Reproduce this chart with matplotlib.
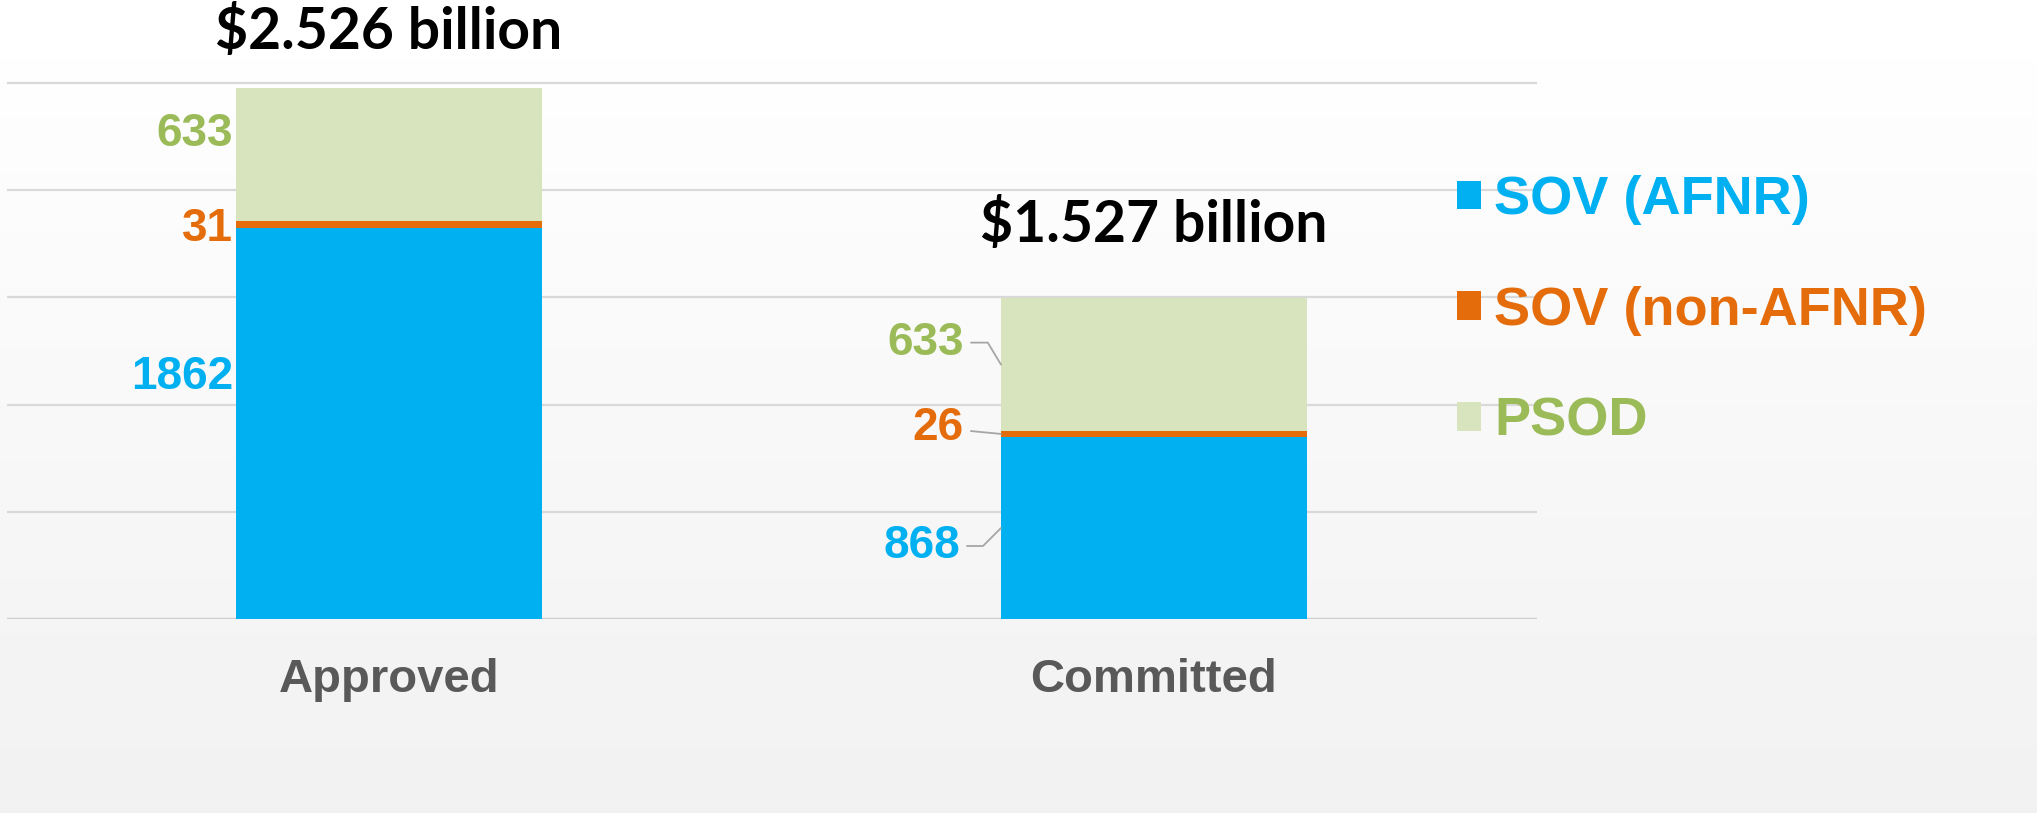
import matplotlib.pyplot as plt
import numpy as np

# values in $ million
categories = ["Approved", "Committed"]
sov_afnr = [1862, 868]
sov_non_afnr = [31, 26]
psod = [633, 633]
series_names = ["SOV (AFNR)", "SOV (non-AFNR)", "PSOD"]

bar_colors = ["#00B0F0", "#E46C0A", "#D7E4BD"]
text_colors = ["#00B0F0", "#E46C0A", "#9BBB59"]

# label offsets (pixels) from the bar's left edge at the middle of each segment
label_offsets = [
    [(-3, 46), (-3, -5), (-3, 20)],
    [(-41, -18), (-37, 6), (-37, 22)],
]
leader_styles = ["angle,angleA=0,angleB=45,rad=0", "arc3,rad=0",
                 "angle,angleA=0,angleB=121,rad=0"]
total_offsets = [56, 73]

W, H = 2037, 813
fig = plt.figure(figsize=(W / 100, H / 100), dpi=100)

# soft white-to-grey background
bg = fig.add_axes([0, 0, 1, 1], zorder=-1)
grad = np.linspace(1.0, 0.945, 256).reshape(-1, 1)
bg.imshow(grad, aspect="auto", cmap="gray", vmin=0, vmax=1, extent=[0, 1, 0, 1])
bg.axis("off")

px_per_unit = 0.2104
y_top = 2560
ax = fig.add_axes([6.5 / W, 1 - 619.3 / H, 1530 / W, y_top * px_per_unit / H])
ax.patch.set_alpha(0)

x = np.arange(len(categories))
width = 0.4
stack = [sov_afnr, sov_non_afnr, psod]
bottoms = np.zeros(len(categories))
bars = []
for vals, name, col in zip(stack, series_names, bar_colors):
    b = ax.bar(x, vals, width, bottom=bottoms, color=col, label=name, zorder=3)
    bars.append((b, bottoms.copy()))
    bottoms += np.array(vals)

ax.set_xlim(-0.5, 1.5)
ax.set_ylim(0, y_top)
ax.set_yticks(np.arange(510, 2551, 510))
ax.yaxis.grid(True, color="#D9D9D9", lw=1.6, zorder=0)
ax.tick_params(axis="y", length=0, labelleft=False)
ax.axhline(0, color="#D0D0D0", lw=2.5, zorder=2)
for s in ax.spines.values():
    s.set_visible(False)

ax.set_xticks(x)
ax.set_xticklabels(categories, family="Liberation Sans", fontweight="bold",
                   fontsize=34, color="#595959")
ax.tick_params(axis="x", length=0, pad=28)

# segment labels
for k, (b, base) in enumerate(bars):
    vals = stack[k]
    for i in range(len(categories)):
        mid = base[i] + vals[i] / 2
        dx, dy = label_offsets[i][k]
        arrow = None
        if i == 1:
            arrow = dict(arrowstyle="-", color="#A6A6A6", lw=1.3,
                         shrinkA=3, shrinkB=0, connectionstyle=leader_styles[k])
        ax.annotate(str(vals[i]), xy=(x[i] - width / 2, mid), xytext=(dx, dy),
                    textcoords="offset pixels", ha="right", va="center",
                    family="Liberation Sans", fontweight="bold", fontsize=33,
                    color=text_colors[k], arrowprops=arrow, zorder=4)

# totals above bars
for i in range(len(categories)):
    total = bottoms[i]
    ax.annotate("\\$%.3f billion" % (total / 1000), xy=(x[i], total),
                xytext=(0, total_offsets[i]), textcoords="offset pixels",
                ha="center", va="center", family="Lato", fontweight="bold",
                fontsize=41, color="black", annotation_clip=False)

leg = ax.legend(loc="center left", bbox_to_anchor=(1457 / W, 1 - 311 / H),
                bbox_transform=fig.transFigure, frameon=False,
                prop={"family": "Liberation Sans", "weight": "bold", "size": 39},
                labelcolor=text_colors, handlelength=0.44, handleheight=0.44,
                handletextpad=0.25, labelspacing=1.12, borderpad=0,
                borderaxespad=0)

fig.savefig("out.png", dpi=100)
